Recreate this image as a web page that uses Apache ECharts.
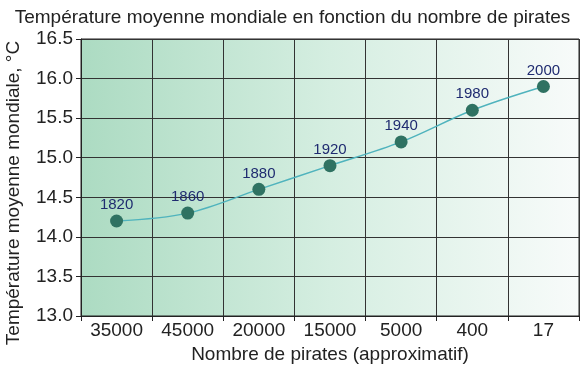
<!DOCTYPE html>
<html>
<head>
<meta charset="utf-8">
<script src="https://cdn.jsdelivr.net/npm/echarts@6/dist/echarts.min.js"></script>
<style>html,body{margin:0;padding:0;background:#fff;}#c{width:585px;height:369px;}</style>
</head>
<body>
<div id="c"></div>
<script>
var pirates = ['35000', '45000', '20000', '15000', '5000', '400', '17'];
var years = ['1820', '1860', '1880', '1920', '1940', '1980', '2000'];
var temps = [14.2, 14.3, 14.6, 14.9, 15.2, 15.6, 15.9];

var chart = echarts.init(document.getElementById('c'));
var FONT = '"Liberation Sans", Arial, sans-serif';
chart.setOption({
  animation: false,
  title: {
    text: 'Température moyenne mondiale en fonction du nombre de pirates',
    left: 'center', top: 3,
    textStyle: { fontFamily: FONT, fontSize: 19, fontWeight: 'normal', color: '#222' }
  },
  graphic: [{
    type: 'text',
    x: 14, y: 193,
    rotation: Math.PI / 2,
    style: {
      text: 'Température moyenne mondiale, °C',
      fontFamily: FONT, fontSize: 19, fill: '#222',
      textAlign: 'center', textVerticalAlign: 'middle'
    }
  }],
  grid: {
    left: 81, right: 6, top: 39, bottom: 53,
    outerBoundsMode: 'none', containLabel: false,
    show: true, borderColor: '#222', borderWidth: 1,
    backgroundColor: new echarts.graphic.LinearGradient(0, 0, 1, 0, [
      { offset: 0, color: '#acdbc2' },
      { offset: 0.5, color: '#d5eee1' },
      { offset: 1, color: '#f8fbfa' }
    ])
  },
  xAxis: {
    type: 'category',
    data: pirates,
    boundaryGap: true,
    name: 'Nombre de pirates (approximatif)',
    nameLocation: 'middle', nameGap: 26,
    nameTextStyle: { fontFamily: FONT, fontSize: 19, color: '#222' },
    axisLine: { lineStyle: { color: '#222', width: 1 } },
    axisTick: { show: true, length: 5, lineStyle: { color: '#222' } },
    axisLabel: { fontFamily: FONT, fontSize: 19, color: '#222', margin: 5 },
    splitLine: { show: true, lineStyle: { color: '#333', width: 1 } }
  },
  yAxis: {
    type: 'value',
    min: 13.0, max: 16.5, interval: 0.5,
    axisLine: { show: true, lineStyle: { color: '#222', width: 1 } },
    axisTick: { show: true, length: 5, lineStyle: { color: '#222' } },
    axisLabel: { fontFamily: FONT, fontSize: 19, color: '#222', margin: 8,
      formatter: function (v) { return v.toFixed(1); } },
    splitLine: { show: true, lineStyle: { color: '#333', width: 1 } }
  },
  series: [{
    type: 'line',
    data: temps,
    smooth: 0.35,
    symbol: 'circle',
    symbolSize: 13,
    lineStyle: { color: '#4fb3bd', width: 1.5 },
    itemStyle: { color: '#2f7262' },
    label: {
      show: true, position: 'top', distance: 2,
      fontFamily: FONT, fontSize: 15, color: '#1f2b70',
      formatter: function (p) { return years[p.dataIndex]; }
    }
  }]
});
</script>
</body>
</html>
